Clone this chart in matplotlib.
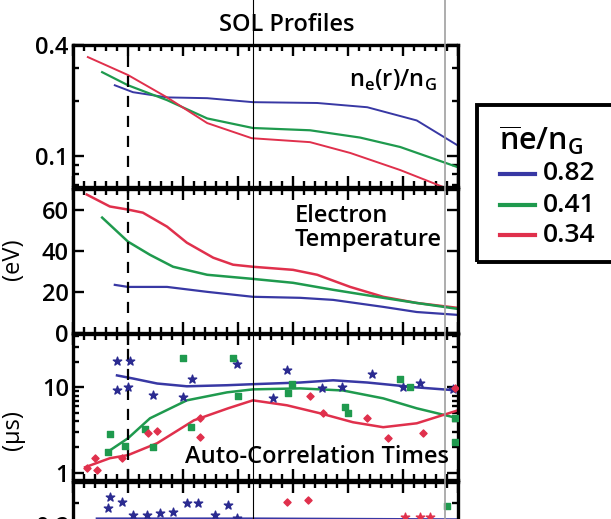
import numpy as np
import matplotlib
matplotlib.use("Agg")
import matplotlib.pyplot as plt
from matplotlib.ticker import MultipleLocator, FixedLocator, FixedFormatter, NullFormatter
from matplotlib.lines import Line2D
from matplotlib.patches import Rectangle

plt.rcParams['font.family'] = ['Open Sans', 'DejaVu Sans']
plt.rcParams['font.weight'] = 'semibold'
plt.rcParams['mathtext.fontset'] = 'custom'
plt.rcParams['mathtext.rm'] = 'Open Sans:semibold'

# ---------------------------------------------------------------- data
# colours for the three densities
C_BLUE, C_GREEN, C_RED = '#3838a4', '#1f9a4e', '#e0304c'
legend_labels = ['0.82', '0.41', '0.34']

# panel 1: n_e(r)/n_G (log)
x_ne_blue = [0.76, 1.09, 1.71, 2.44, 3.27, 4.44, 5.35, 6.25, 7.0]
ne_blue = [0.242, 0.222, 0.208, 0.206, 0.196, 0.194, 0.184, 0.156, 0.114]
x_ne_green = [0.53, 1.0, 1.71, 2.44, 3.27, 4.31, 5.22, 5.95, 7.0]
ne_green = [0.285, 0.242, 0.201, 0.160, 0.142, 0.138, 0.126, 0.112, 0.087]
x_ne_red = [0.27, 1.0, 1.71, 2.44, 3.25, 4.31, 5.04, 5.95, 6.73, 7.0]
ne_red = [0.344, 0.275, 0.208, 0.151, 0.125, 0.119, 0.104, 0.084, 0.068, 0.061]

# panel 2: electron temperature (eV)
x_te_red = [0.25, 0.67, 1.0, 1.27, 1.71, 2.07, 2.55, 2.91, 3.27, 4.0, 4.44, 5.04, 5.64, 6.25, 7.0]
te_red = [67.3, 61.5, 60.0, 58.5, 51.7, 43.9, 36.6, 33.2, 32.2, 30.7, 28.3, 22.4, 17.6, 14.6, 12.2]
x_te_green = [0.53, 1.0, 1.4, 1.82, 2.44, 3.27, 4.0, 4.73, 5.64, 6.25, 7.0]
te_green = [56.1, 44.4, 38.0, 32.2, 28.3, 26.3, 24.4, 21.0, 17.1, 14.6, 11.7]
x_te_blue = [0.76, 1.0, 1.71, 2.44, 3.27, 4.13, 4.73, 5.64, 6.25, 7.0]
te_blue = [23.4, 22.4, 22.4, 20.0, 17.6, 17.1, 16.1, 12.7, 10.2, 8.8]

# panel 3: auto-correlation times (us), fits
x_tau_blue = [0.8, 1.09, 1.53, 2.07, 2.8, 3.27, 4.13, 4.73, 5.35, 6.25, 7.0]
tau_blue = [13.8, 12.7, 11.1, 10.3, 10.6, 10.9, 11.4, 12.1, 11.4, 10.0, 9.2]
x_tau_green = [0.62, 1.0, 1.4, 2.07, 2.8, 3.27, 4.13, 4.91, 5.64, 6.25, 7.0]
tau_green = [1.75, 2.55, 4.36, 7.06, 8.75, 9.48, 9.74, 9.2, 7.45, 5.7, 4.36]
x_tau_red = [0.22, 0.67, 1.0, 1.53, 2.2, 2.82, 3.27, 3.89, 4.49, 5.09, 5.64, 6.25, 7.0]
tau_red = [1.17, 1.49, 1.62, 2.23, 4.13, 5.7, 7.06, 6.18, 4.99, 3.92, 3.43, 3.81, 5.4]

# panel 3: measured points
x_pt_blue = [0.8, 1.04, 0.8, 1.0, 1.45, 2.16, 2.98, 2.0, 3.89, 3.64, 4.53, 5.44, 4.89, 6.31, 6.0, 6.91]
pt_blue = [20.6, 20.6, 9.2, 10.0, 8.07, 12.7, 19.0, 7.65, 15.8, 7.45, 9.74, 14.5, 10.0, 11.4, 10.0, 9.5]
x_pt_green = [0.67, 2.0, 2.91, 0.64, 0.95, 1.31, 1.45, 2.15, 3.0, 3.91, 3.98, 4.95, 5.0, 5.95, 6.13, 6.95, 6.95]
pt_green = [2.84, 22.3, 22.3, 1.75, 2.06, 3.25, 2.0, 3.43, 7.86, 8.5, 11.1, 5.85, 4.99, 12.4, 10.0, 4.36, 2.29]
x_pt_red = [0.25, 0.4, 0.44, 0.89, 1.36, 1.53, 2.31, 2.31, 4.31, 4.55, 5.35, 5.73, 6.36, 6.95]
pt_red = [1.14, 1.49, 1.08, 1.49, 2.92, 3.08, 4.36, 2.62, 7.86, 4.99, 4.36, 2.55, 2.92, 9.74]

# panel 4 (cut off at the bottom)
x_p4_blue = [0.67, 0.89, 0.64, 2.07, 2.27, 2.82, 1.82, 1.58, 1.35, 1.09, 2.58, 2.98]
p4_blue = [0.265, 0.253, 0.240, 0.251, 0.251, 0.247, 0.230, 0.228, 0.223, 0.223, 0.223, 0.216]
x_p4_blue_fit = [0.44, 3.3, 7.0]
p4_blue_fit = [0.214, 0.214, 0.212]
x_p4_red = [3.89, 4.27]
p4_red = [0.253, 0.258]
x_p4_red_star = [6.04, 6.31, 6.49]
p4_red_star = [0.219, 0.219, 0.219]
x_p4_green = [6.8]
p4_green = [0.244]

# ---------------------------------------------------------------- layout
W, H = 611, 519
fig = plt.figure(figsize=(W / 100, H / 100), dpi=100)
FS = 17


def fx(px):
    return px / W


def fy(py):
    return 1 - py / H


def add_panel(top, bottom):
    return fig.add_axes([fx(73), fy(bottom), fx(458) - fx(73), fy(top) - fy(bottom)])


ax1 = add_panel(45, 187)
ax2 = add_panel(189, 333)
ax3 = add_panel(334, 480)
ax4 = add_panel(482, 625)
axes = [ax1, ax2, ax3, ax4]

for ax in axes:
    ax.set_xlim(0, 7)
    ax.xaxis.set_major_locator(MultipleLocator(1))
    ax.xaxis.set_minor_locator(MultipleLocator(0.2))
    ax.xaxis.set_major_formatter(NullFormatter())
    ax.tick_params(which='both', direction='in', top=True, right=True,
                   labelsize=FS, width=1.7, pad=3)
    ax.tick_params(which='major', length=8)
    ax.tick_params(which='minor', length=4)
    for sp in ax.spines.values():
        sp.set_linewidth(2.4)

# panel 1
ax1.plot(x_ne_blue, ne_blue, color=C_BLUE, lw=1.4)
ax1.plot(x_ne_green, ne_green, color=C_GREEN, lw=1.6)
ax1.plot(x_ne_red, ne_red, color=C_RED, lw=1.4)
ax1.set_yscale('log')
ax1.set_ylim(0.068, 0.4)
ax1.yaxis.set_major_locator(FixedLocator([0.1, 0.4]))
ax1.yaxis.set_major_formatter(FixedFormatter(['0.1', '0.4']))
ax1.yaxis.set_minor_locator(FixedLocator([0.07, 0.08, 0.09, 0.2, 0.3]))
ax1.yaxis.set_minor_formatter(NullFormatter())

# panel 2
ax2.plot(x_te_red, te_red, color=C_RED, lw=1.8)
ax2.plot(x_te_green, te_green, color=C_GREEN, lw=1.8)
ax2.plot(x_te_blue, te_blue, color=C_BLUE, lw=1.6)
ax2.set_ylim(0, 70)
ax2.yaxis.set_major_locator(FixedLocator([0, 20, 40, 60]))
ax2.yaxis.set_minor_locator(FixedLocator([]))
ax2.set_ylabel('(eV)', fontsize=FS)
ax2.yaxis.set_label_coords(-0.125, 0.51)

# panel 3
ax3.plot(x_tau_blue, tau_blue, color=C_BLUE, lw=1.8)
ax3.plot(x_tau_green, tau_green, color=C_GREEN, lw=1.8)
ax3.plot(x_tau_red, tau_red, color=C_RED, lw=1.8)
ax3.scatter(x_pt_blue, pt_blue, marker='*', s=40, color='#2a2a90', zorder=3)
ax3.scatter(x_pt_green, pt_green, marker='s', s=15, color=C_GREEN, zorder=3)
ax3.scatter(x_pt_red, pt_red, marker='D', s=13, color=C_RED, zorder=3)
ax3.set_yscale('log')
ax3.set_ylim(0.83, 42)
ax3.yaxis.set_major_locator(FixedLocator([1, 10]))
ax3.yaxis.set_major_formatter(FixedFormatter(['1', '10']))
ax3.yaxis.set_minor_locator(FixedLocator([2, 3, 4, 5, 6, 7, 8, 9, 20, 30, 40]))
ax3.yaxis.set_minor_formatter(NullFormatter())
ax3.set_ylabel('(\u00b5s)', fontsize=FS)
ax3.yaxis.set_label_coords(-0.125, 0.34)

# panel 4
ax4.plot(x_p4_blue_fit, p4_blue_fit, color=C_BLUE, lw=2.2)
ax4.scatter(x_p4_blue, p4_blue, marker='*', s=40, color='#2a2a90', zorder=3)
ax4.scatter(x_p4_red, p4_red, marker='D', s=13, color=C_RED, zorder=3)
ax4.scatter(x_p4_red_star, p4_red_star, marker='*', s=40, color=C_RED, zorder=3)
ax4.scatter(x_p4_green, p4_green, marker='s', s=15, color=C_GREEN, zorder=3)
ax4.set_ylim(-0.033, 0.3)
ax4.yaxis.set_major_locator(FixedLocator([0.1, 0.2]))
ax4.yaxis.set_minor_locator(FixedLocator([0.25]))

# dashed separatrix marker
for ax in (ax1, ax2, ax3):
    ax.axvline(1.0, color='black', lw=1.6, ls=(0, (5, 4)))

# panel labels
fig.text(fx(437), fy(80), r'n$_\mathregular{e}$(r)/n$_\mathregular{G}$',
         ha='right', va='center', fontsize=FS)
fig.text(fx(295), fy(204), 'Electron\nTemperature', ha='left', va='top',
         fontsize=FS, linespacing=1.0)
fig.text(fx(449), fy(457), 'Auto-Correlation Times', ha='right', va='center',
         fontsize=FS)
fig.text(fx(287), fy(25), 'SOL Profiles', ha='center', va='center', fontsize=FS)

# thin vertical reference lines running through the whole figure
fig.add_artist(Line2D([fx(253), fx(253)], [0, 1], color='black', lw=0.8))
fig.add_artist(Line2D([fx(445), fx(445)], [0, 1], color='#a0a0a0', lw=1.2))

# legend box (runs off the right edge)
fig.add_artist(Rectangle((fx(477), fy(262)), fx(700) - fx(477), fy(105) - fy(262),
                         fill=False, lw=2.8, edgecolor='black'))
fig.text(fx(499), fy(140), r'$\mathregular{\overline{n}e/n_G}$', ha='left',
         va='center', fontsize=22)
for label, col, ypx in zip(legend_labels, [C_BLUE, C_GREEN, C_RED], [174, 205, 235]):
    fig.add_artist(Line2D([fx(500), fx(535)], [fy(ypx), fy(ypx)], color=col, lw=3))
    fig.text(fx(543), fy(ypx), label, ha='left', va='center', fontsize=19)

fig.savefig('out.png', dpi=100)
